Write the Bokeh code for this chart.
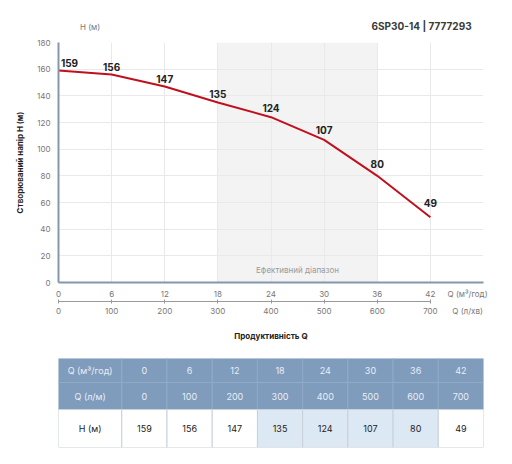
from bokeh.embed import file_html
from bokeh.layouts import column
from bokeh.models import (BoxAnnotation, ColumnDataSource, FixedTicker, Label,
                          LinearAxis, Range1d)
from bokeh.plotting import figure
from bokeh.resources import INLINE

# pump curve data (6SP30-14)
q_m3h = [0, 6, 12, 18, 24, 30, 36, 42]
q_lmin = [0, 100, 200, 300, 400, 500, 600, 700]
head_m = [159, 156, 147, 135, 124, 107, 80, 49]
eff_range = (18, 36)

y_ticks = [0, 20, 40, 60, 80, 100, 120, 140, 160, 180]
x_grid = [0, 6, 12, 18, 24, 30, 36, 42, 48]

title_text = "6SP30-14 | 7777293"
unit_m3h = "Q (м³/год)"
unit_lmin = "Q (л/хв)"
font = "Inter"
axis_col = "#8497ad"
tick_col = "#777777"
W = 500

# label lift above each point (px), steeper part of the curve needs more room
label_lift = [8, 8, 8, 9, 9, 10, 12, 14]

# ---- header strip (unit of the y axis + model name) ----
top = figure(width=W, height=36, x_range=Range1d(0, W), y_range=Range1d(0, 36),
             x_axis_type=None, y_axis_type=None, output_backend="svg",
             toolbar_location=None, min_border=0)
top.outline_line_color = None
top.grid.visible = False
top.add_layout(Label(x=49, y=10, text="H (м)", text_align="right", text_baseline="middle",
                     text_font=font, text_font_size="8px", text_color=tick_col))
top.add_layout(Label(x=486, y=11, text=title_text, text_align="right",
                     text_baseline="middle", text_font=font, text_font_size="10px",
                     text_font_style="bold", text_color="#3a3a3a"))

# ---- chart ----
p = figure(width=W, height=314, x_range=Range1d(0, 48), y_range=Range1d(0, 180),
           output_backend="svg", toolbar_location=None,
           min_border_left=58, min_border_right=W - 58 - 428, min_border_top=6,
           min_border_bottom=68)
p.outline_line_color = None

# effective range shading
p.add_layout(BoxAnnotation(left=eff_range[0], right=eff_range[1], fill_color="#f3f3f3",
                           fill_alpha=1, line_color=None, level="image"))

p.xgrid.ticker = FixedTicker(ticks=x_grid)
p.ygrid.ticker = FixedTicker(ticks=y_ticks)
p.grid.grid_line_color = "#e9e9e9"

# left axis
p.yaxis.ticker = FixedTicker(ticks=y_ticks)
p.yaxis.axis_line_color = axis_col
p.yaxis.axis_line_width = 2
p.yaxis.major_tick_line_color = None
p.yaxis.minor_tick_line_color = None
p.yaxis.major_tick_out = 0
p.yaxis.major_label_standoff = 8
p.yaxis.major_label_text_font = font
p.yaxis.major_label_text_font_size = "8px"
p.yaxis.major_label_text_color = tick_col
p.yaxis.axis_label = "Створюваний напір H (м)"
p.yaxis.axis_label_text_font = font
p.yaxis.axis_label_text_font_size = "8px"
p.yaxis.axis_label_text_font_style = "bold"
p.yaxis.axis_label_text_color = "#222222"
p.yaxis.axis_label_standoff = 9

# bottom axis: m3/h, with its unit written as an extra tick label at the right
p.xaxis.ticker = FixedTicker(ticks=q_m3h + [46.2])
p.xaxis.major_label_overrides = {46.2: unit_m3h}
p.xaxis.axis_line_color = axis_col
p.xaxis.axis_line_width = 2
p.xaxis.major_tick_line_color = None
p.xaxis.minor_tick_line_color = None
p.xaxis.major_tick_out = 0
p.xaxis.major_label_standoff = 6
p.xaxis.major_label_text_font = font
p.xaxis.major_label_text_font_size = "8px"
p.xaxis.major_label_text_color = tick_col

# l/min scale: line and ticks only
p.extra_x_ranges = {"lmin": Range1d(0, 800)}
ax_line = LinearAxis(x_range_name="lmin", ticker=FixedTicker(ticks=q_lmin), bounds=(0, 700))
ax_line.axis_line_color = "#999999"
ax_line.major_tick_line_color = "#999999"
ax_line.minor_tick_line_color = None
ax_line.major_tick_in = 2
ax_line.major_tick_out = 2
ax_line.major_label_standoff = 0
ax_line.major_label_text_font_size = "1px"
ax_line.major_label_text_color = None
p.add_layout(ax_line, "below")

# l/min scale: labels, unit and axis title
ax_lab = LinearAxis(x_range_name="lmin", ticker=FixedTicker(ticks=q_lmin + [770]))
ax_lab.major_label_overrides = {770: unit_lmin}
ax_lab.axis_line_color = None
ax_lab.major_tick_line_color = None
ax_lab.minor_tick_line_color = None
ax_lab.major_tick_in = 0
ax_lab.major_tick_out = 0
ax_lab.major_label_standoff = 2
ax_lab.major_label_text_font = font
ax_lab.major_label_text_font_size = "8px"
ax_lab.major_label_text_color = tick_col
ax_lab.axis_label = "Продуктивність Q"
ax_lab.axis_label_text_font = font
ax_lab.axis_label_text_font_size = "8px"
ax_lab.axis_label_text_font_style = "bold"
ax_lab.axis_label_text_color = "#222222"
ax_lab.axis_label_standoff = 12
p.add_layout(ax_lab, "below")

# curve
src = ColumnDataSource(data=dict(q=q_m3h, h=head_m))
p.line("q", "h", source=src, line_color="#c0101e", line_width=2)

for i, (q, h) in enumerate(zip(q_m3h, head_m)):
    p.add_layout(Label(x=q, y=h, text=str(h), x_offset=11 if i == 0 else 0,
                       y_offset=label_lift[i], text_align="center",
                       text_baseline="middle", text_font=font,
                       text_font_size="10px", text_font_style="bold",
                       text_color="#222222"))

p.add_layout(Label(x=sum(eff_range) / 2, y=0, y_offset=13, text="Ефективний діапазон",
                   text_align="center", text_baseline="middle", text_font=font,
                   text_font_size="8px", text_color="#9a9a9a"))

# ---- table ----
head_w = 1.4
row_h = [24, 27, 38]
row_names = ["Q (м³/год)", "Q (л/м)", "H (м)"]
row_vals = [q_m3h, q_lmin, head_m]
total_h = sum(row_h)

t = figure(width=W, height=106, x_range=Range1d(0, head_w + len(q_m3h)),
           y_range=Range1d(0, total_h), output_backend="svg", toolbar_location=None,
           x_axis_type=None, y_axis_type=None,
           min_border_left=53, min_border_right=W - 53 - 430, min_border_top=8,
           min_border_bottom=9)
t.outline_line_color = None
t.grid.visible = False

cells = dict(left=[], right=[], top=[], bottom=[], fill=[], line=[], text=[], tcol=[],
             tx=[], ty=[])
row_top = total_h
for r, (name, vals) in enumerate(zip(row_names, row_vals)):
    row_bottom = row_top - row_h[r]
    header = r < 2
    lefts = [0] + [head_w + i for i in range(len(vals))]
    rights = [head_w] + [head_w + i + 1 for i in range(len(vals))]
    texts = [name] + [str(v) for v in vals]
    for c in range(len(texts)):
        if header:
            fill, line, tc = "#7f9cbd", "#90aac7", "#e9eff6"
        else:
            inside = c > 0 and eff_range[0] <= q_m3h[c - 1] <= eff_range[1]
            fill = "#dde8f5" if inside else "#ffffff"
            line, tc = "#c9d1da", "#222222"
        cells["left"].append(lefts[c])
        cells["right"].append(rights[c])
        cells["top"].append(row_top)
        cells["bottom"].append(row_bottom)
        cells["fill"].append(fill)
        cells["line"].append(line)
        cells["text"].append(texts[c])
        cells["tcol"].append(tc)
        cells["tx"].append((lefts[c] + rights[c]) / 2)
        cells["ty"].append((row_top + row_bottom) / 2)
    row_top = row_bottom

csrc = ColumnDataSource(data=cells)
t.quad(left="left", right="right", top="top", bottom="bottom", source=csrc,
       fill_color="fill", line_color="line", line_width=1)
t.text(x="tx", y="ty", text="text", source=csrc, text_color="tcol", text_align="center",
       text_baseline="middle", text_font={"value": font}, text_font_size="9px")

layout = column(top, p, t)
open("out.html", "w").write(file_html(layout, INLINE))
